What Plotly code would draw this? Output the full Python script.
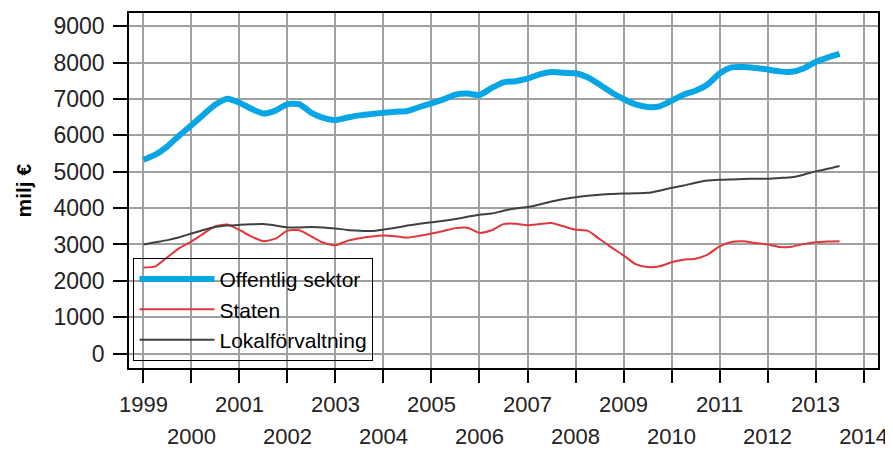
import plotly.graph_objects as go

# Quarterly data 1999Q1 .. 2013Q3
start_year = 1999
offentlig = [5330, 5470, 5700, 6000, 6280, 6570, 6850, 7010, 6900, 6730,
             6600, 6680, 6860, 6850, 6620, 6480, 6420, 6490, 6550, 6590,
             6620, 6650, 6670, 6780, 6880, 6990, 7120, 7150, 7110, 7300,
             7460, 7490, 7560, 7680, 7740, 7720, 7710, 7600, 7400, 7180,
             7000, 6850, 6780, 6800, 6950, 7120, 7230, 7400, 7700, 7870,
             7880, 7850, 7810, 7760, 7750, 7840, 8020, 8140, 8240]
staten = [2370, 2400, 2650, 2900, 3080, 3300, 3500, 3550, 3400, 3220,
          3090, 3160, 3380, 3390, 3220, 3050, 2980, 3100, 3170, 3220,
          3250, 3230, 3190, 3240, 3300, 3370, 3450, 3460, 3320, 3390,
          3560, 3570, 3530, 3560, 3590, 3500, 3410, 3380, 3150, 2920,
          2700, 2460, 2380, 2400, 2510, 2580, 2610, 2720, 2950, 3070,
          3090, 3040, 3000, 2930, 2940, 3010, 3060, 3080, 3090]
lokal = [3000, 3060, 3120, 3200, 3300, 3400, 3480, 3520, 3540, 3555,
         3560, 3520, 3470, 3470, 3480, 3470, 3440, 3400, 3380, 3370,
         3410, 3460, 3520, 3570, 3610, 3650, 3700, 3760, 3820, 3850,
         3930, 3990, 4030, 4100, 4180, 4250, 4300, 4340, 4370, 4390,
         4400, 4410, 4420, 4480, 4560, 4620, 4700, 4760, 4780, 4790,
         4800, 4810, 4810, 4830, 4850, 4920, 5010, 5080, 5160]
year_ticks = list(range(1999, 2015))
odd_years = [y for y in year_ticks if (y - 1999) % 2 == 0]
even_years = [y for y in year_ticks if (y - 1999) % 2 == 1]
y_ticks = list(range(0, 10000, 1000))
series_names = ["Offentlig sektor", "Staten", "Lokalförvaltning"]
y_title = "milj €"

x = [start_year + i / 4 for i in range(len(offentlig))]
tick_text_row1 = [str(y) if y in odd_years else "" for y in year_ticks]

font_family = "Liberation Sans, Arial, sans-serif"
grid_col = "#A0A0A0"

fig = go.Figure()
fig.add_trace(go.Scatter(x=x, y=offentlig, name=series_names[0], mode="lines",
                         line=dict(color="#08A6E4", width=6, shape="spline", smoothing=0.6)))
fig.add_trace(go.Scatter(x=x, y=staten, name=series_names[1], mode="lines",
                         line=dict(color="#E0363C", width=2, shape="spline", smoothing=0.6)))
fig.add_trace(go.Scatter(x=x, y=lokal, name=series_names[2], mode="lines",
                         line=dict(color="#404040", width=2, shape="spline", smoothing=0.6)))
# carrier for the second row of year labels
fig.add_trace(go.Scatter(x=[year_ticks[0], year_ticks[-1]], y=[None, None], xaxis="x2",
                         mode="lines", showlegend=False, hoverinfo="skip"))

x_range = [1998.70, 2014.30]

fig.update_layout(
    width=885, height=442,
    margin=dict(l=121, r=15, t=5, b=82),
    paper_bgcolor="white", plot_bgcolor="white",
    font=dict(family=font_family, size=22, color="#222222"),
    showlegend=True,
    legend=dict(x=0.006, y=0.02, xanchor="left", yanchor="bottom",
                bgcolor="rgba(0,0,0,0)", bordercolor="black", borderwidth=1,
                font=dict(size=21, color="black"), itemwidth=75,
                tracegroupgap=0),
    xaxis=dict(range=x_range, tickmode="array", tickvals=year_ticks,
               ticktext=tick_text_row1, ticks="outside", ticklen=13, tickcolor="black",
               tickwidth=1.5, automargin=False, ticklabelstandoff=3,
               showgrid=True, gridcolor=grid_col, gridwidth=1.5,
               showline=True, linecolor="black", linewidth=1.5, mirror=True,
               zeroline=False, tickangle=0),
    xaxis2=dict(range=x_range, overlaying="x", anchor="y", side="bottom",
                tickmode="array", tickvals=even_years, ticktext=[str(y) for y in even_years],
                ticks="", automargin=False, ticklabelstandoff=53,
                showgrid=False, showline=False, zeroline=False, tickangle=0),
    yaxis=dict(range=[-396, 9365], tickmode="array", tickvals=y_ticks,
               ticks="outside", ticklen=14, tickcolor="black", tickwidth=1.5,
               automargin=False, tickfont=dict(size=23), ticklabelstandoff=4,
               showgrid=True, gridcolor=grid_col, gridwidth=1.5,
               showline=True, linecolor="black", linewidth=1.5, mirror=True,
               zeroline=False),
    annotations=[dict(text="<b>" + y_title + "</b>", xref="paper", yref="paper",
                      x=0, y=0.5, xshift=-106, xanchor="center", yanchor="middle",
                      textangle=-90, showarrow=False,
                      font=dict(size=21, color="black", family=font_family))],
)

fig.write_html("out.html")
